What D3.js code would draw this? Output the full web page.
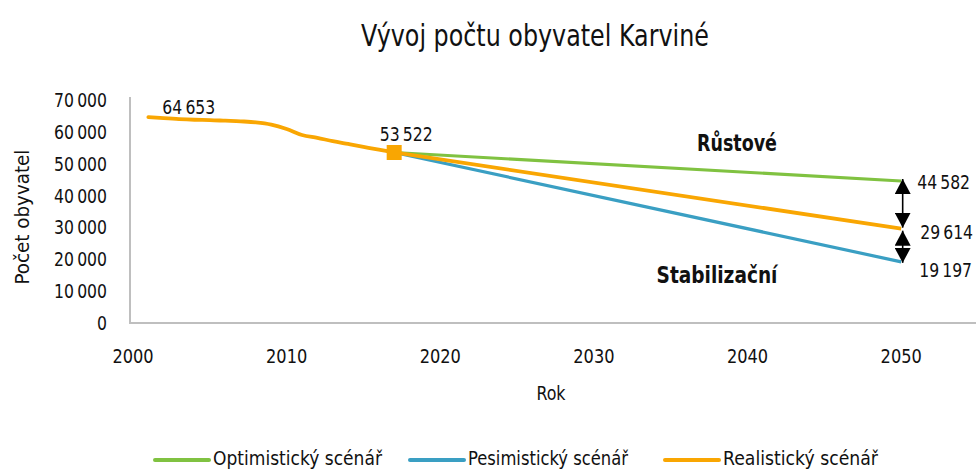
<!DOCTYPE html>
<html><head><meta charset="utf-8">
<script src="https://cdn.jsdelivr.net/npm/d3@7"></script>
<style>
body{margin:0;background:#fff;}
text{font-family:"DejaVu Sans Condensed","DejaVu Sans",sans-serif;fill:#111;}
</style></head>
<body><svg id="c" width="976" height="470"></svg>
<script>
const histYears = [2001,2002,2003,2004,2005,2006,2007,2008,2009,2010,2011,2012,2013,2014,2015,2016,2017];
const histValues = [64653,64300,64000,63800,63700,63500,63300,63000,62300,60900,59000,58100,57100,56200,55300,54400,53522];
const projYears = [2017,2050];
const optimistic = [53522,44582];
const pessimistic = [53522,19197];
const realistic = [53522,29614];
const xTicks = [2000,2010,2020,2030,2040,2050];
const yTicks = [0,10000,20000,30000,40000,50000,60000,70000];
const seriesNames = ["Optimistický scénář","Pesimistický scénář","Realistický scénář"];
const colors = {opt:"#80C241", pes:"#3A9FC3", real:"#F9A602"};

const svg = d3.select("#c");
const x = d3.scaleLinear().domain([2000,2055]).range([133,978]);
const y = d3.scaleLinear().domain([0,70000]).range([323,100]);
const fmt = v => d3.format(",")(v).replace(/,/g,"\u2009");

function T(parent, px, py, str, o){
  o = o||{};
  const g = parent.append("g").attr("transform",`translate(${px},${py})`);
  const inner = g.append("g");
  const t = inner.append("text").attr("text-anchor",o.anchor||"start").attr("dy",o.dy!==undefined?o.dy:"0.35em")
    .attr("font-size",o.size||20).attr("font-weight",o.weight||"normal").text(str);
  if(o.rotate) g.attr("transform",`translate(${px},${py}) rotate(${o.rotate})`);
  let sx = o.sx||1;
  if(o.width){ const w = t.node().getComputedTextLength(); if(w>0) sx = o.width/w; }
  inner.attr("transform",`scale(${sx},1)`);
  return g;
}

svg.append("line").attr("x1",130).attr("x2",130).attr("y1",97).attr("y2",323).attr("stroke","#BFBFBF").attr("stroke-width",2);
svg.append("line").attr("x1",129).attr("x2",976).attr("y1",323).attr("y2",323).attr("stroke","#BFBFBF").attr("stroke-width",2);

yTicks.forEach(d=>T(svg,107,y(d),fmt(d),{anchor:"end",sx:0.87}));
xTicks.forEach(d=>T(svg,x(d),356,String(d),{anchor:"middle",sx:0.9}));

T(svg,551,393,"Rok",{anchor:"middle",sx:0.88});
T(svg,22,217,"Počet obyvatel",{anchor:"middle",rotate:-90,width:135});
T(svg,535,35,"Vývoj počtu obyvatel Karviné",{anchor:"middle",size:30,width:348});

const line = d3.line().x(d=>x(d[0])).y(d=>y(d[1]));
const zip = (a,b)=>a.map((v,i)=>[v,b[i]]);
svg.append("path").datum(zip(projYears,optimistic)).attr("d",line).attr("fill","none").attr("stroke",colors.opt).attr("stroke-width",3.2);
svg.append("path").datum(zip(projYears,pessimistic)).attr("d",line).attr("fill","none").attr("stroke",colors.pes).attr("stroke-width",3.2);
svg.append("path").datum(zip(projYears,realistic)).attr("d",line).attr("fill","none").attr("stroke",colors.real).attr("stroke-width",3.8);
svg.append("path").datum(zip(histYears,histValues)).attr("d",d3.line().curve(d3.curveMonotoneX).x(d=>x(d[0])).y(d=>y(d[1]))).attr("fill","none").attr("stroke",colors.real).attr("stroke-width",3.8).attr("stroke-linecap","round");

svg.append("rect").attr("x",x(2017)-7.5).attr("y",y(53522)-7.5).attr("width",15).attr("height",15).attr("fill",colors.real);

T(svg,x(2001)+14,y(histValues[0])-3,fmt(histValues[0]),{dy:0,sx:0.87});
T(svg,x(2017)+12,y(53522)-11,fmt(53522),{anchor:"middle",dy:0,sx:0.87});
T(svg,x(2050)+16,y(optimistic[1])+1,fmt(optimistic[1]),{sx:0.87});
T(svg,x(2050)+19,y(realistic[1])+3,fmt(realistic[1]),{sx:0.87});
T(svg,x(2050)+18,y(pessimistic[1])+8,fmt(pessimistic[1]),{sx:0.87});
T(svg,737,143,"Růstové",{anchor:"middle",size:23,weight:"bold",width:80});
T(svg,717,275,"Stabilizační",{anchor:"middle",size:23,weight:"bold",width:121});

const defs = svg.append("defs");
["s","e"].forEach(k=>{
  defs.append("marker").attr("id","ar"+k).attr("viewBox","0 0 15 16").attr("refX",k==="e"?15:0).attr("refY",8)
   .attr("markerWidth",15).attr("markerHeight",16).attr("markerUnits","userSpaceOnUse").attr("orient","auto")
   .append("path").attr("d",k==="e"?"M0,0L15,8L0,16Z":"M15,0L0,8L15,16Z").attr("fill","#000");
});
const ax = x(2050)+1.5;
svg.append("line").attr("x1",ax).attr("x2",ax).attr("y1",y(optimistic[1])-2).attr("y2",y(realistic[1])-1).attr("stroke","#000").attr("stroke-width",1.6).attr("marker-start","url(#ars)").attr("marker-end","url(#are)");
svg.append("line").attr("x1",ax).attr("x2",ax).attr("y1",y(realistic[1])+2).attr("y2",y(pessimistic[1])+1).attr("stroke","#000").attr("stroke-width",1.6).attr("marker-start","url(#ars)").attr("marker-end","url(#are)");

const leg = [{n:seriesNames[0],c:colors.opt,x:155,w:169},{n:seriesNames[1],c:colors.pes,x:410,w:160},{n:seriesNames[2],c:colors.real,x:665,w:155}];
leg.forEach(d=>{
  svg.append("line").attr("x1",d.x).attr("x2",d.x+54).attr("y1",460).attr("y2",460).attr("stroke",d.c).attr("stroke-width",4).attr("stroke-linecap","round");
  T(svg,d.x+58,465,d.n,{dy:0,size:19,width:d.w});
});
</script></body></html>
